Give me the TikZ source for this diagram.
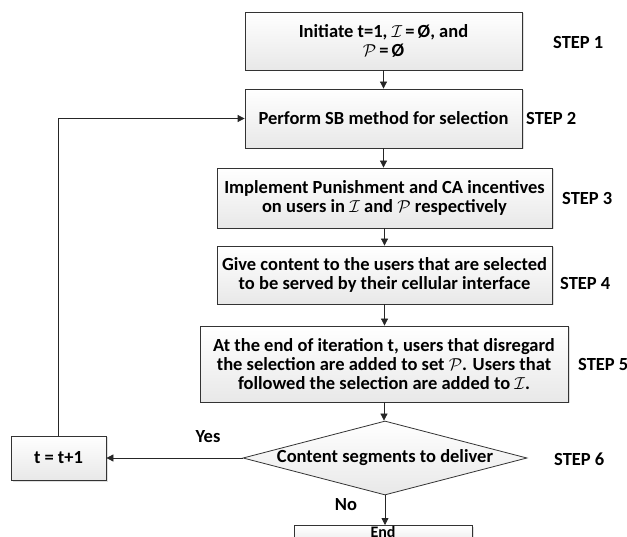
\documentclass[tikz,border=0pt]{standalone}
\usepackage{fontspec}
\setmainfont{Carlito}
\usepackage{tikz}
\usetikzlibrary{shapes,shapes.geometric,arrows.meta,positioning,calc,shadows}

\begin{document}
\begin{tikzpicture}[
    x=1pt, y=-1pt,
    box/.style={rectangle, draw=gray!40!black, line width=0.8pt, top color=white, bottom color=gray!18,
        font=\fontsize{18.5}{19}\selectfont\bfseries, align=center, inner sep=2pt,
        drop shadow={opacity=0.25, shadow xshift=1.5pt, shadow yshift=-1.5pt}},
    decision/.style={diamond, draw=gray!40!black, line width=0.8pt, top color=white, bottom color=gray!18,
        font=\fontsize{18.5}{19}\selectfont\bfseries, inner sep=0pt, aspect=3.8},
    steplabel/.style={anchor=west, font=\fontsize{18.5}{19}\selectfont\bfseries, inner sep=0pt},
    answer/.style={font=\fontsize{18.5}{19}\selectfont\bfseries, inner sep=0pt},
    arrow/.style={-{Triangle[length=7pt,width=7pt]}, line width=0.8pt, draw=gray!30!black}
]
    \useasboundingbox (0,0) rectangle (627,537);

    % Step 1
    \node[box, minimum width=277pt, minimum height=58pt] (init) at (383.5,41) {Initiate t=1, $\mathcal{I}$\,=\,Ø, and\\$\mathcal{P}$\,=\,Ø};
    \node[steplabel] (s1) at (553,43) {STEP 1};

    % Step 2
    \node[box, minimum width=277pt, minimum height=59pt] (select) at (383.5,118.5) {Perform SB method for selection};
    \node[steplabel] (s2) at (526,119) {STEP 2};

    % Step 3
    \node[box, minimum width=335pt, minimum height=60pt] (incent) at (384.5,198) {Implement Punishment and CA incentives\\on users in $\mathcal{I}$ and $\mathcal{P}$ respectively};
    \node[steplabel] (s3) at (562,198) {STEP 3};

    % Step 4
    \node[box, minimum width=335pt, minimum height=58pt] (give) at (384.5,275) {Give content to the users that are selected\\to be served by their cellular interface};
    \node[steplabel] (s4) at (560,283) {STEP 4};

    % Step 5
    \node[box, minimum width=368pt, minimum height=76pt] (update) at (384,364) {At the end of iteration t, users that disregard\\the selection are added to set $\mathcal{P}$. Users that\\followed the selection are added to $\mathcal{I}$.};
    \node[steplabel] (s5) at (578,364) {STEP 5};

    % Step 6 (decision)
    \node[decision, minimum width=284pt, minimum height=74pt] (check) at (385,458) {Content segments to deliver};
    \node[steplabel] (s6) at (554,459) {STEP 6};

    % Increment
    \node[box, minimum width=95pt, minimum height=44pt] (inc) at (58.5,458) {t = t+1};

    % End (cut off at the bottom)
    \node[box, anchor=north, minimum width=178pt, inner ysep=0.5pt, text depth=8pt,
        font=\fontsize{16}{17}\selectfont\bfseries] (finish) at (383,525) {End};

    % Answers
    \node[answer] (yes) at (208,437) {Yes};
    \node[answer] (no) at (346,505) {No};

    % Arrows
    \draw[arrow] (init) -- (select);
    \draw[arrow] (select) -- (select |- incent.north);
    \draw[arrow] (incent) -- (incent |- give.north);
    \draw[arrow] (give) -- (give |- update.north);
    \draw[arrow] (update) -- (update |- check.north);
    \draw[arrow] (check.west) -- (inc.east);
    \draw[arrow] (check.south) -- (check.south |- finish.north);

    % Loop back
    \draw[arrow] (inc.north) |- (select.west);
\end{tikzpicture}
\end{document}
